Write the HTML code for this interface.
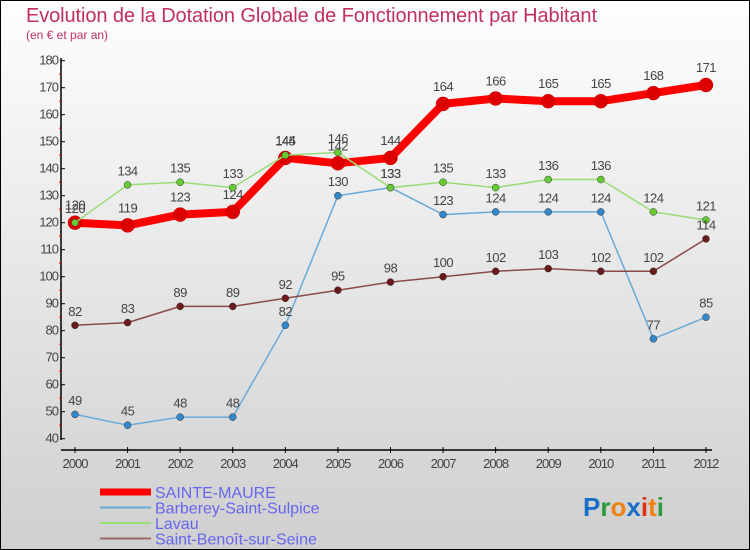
<!DOCTYPE html>
<html><head><meta charset="utf-8"><style>
body{margin:0}
#c{position:relative;width:750px;height:550px;box-sizing:border-box;border:1px solid #000;background:linear-gradient(#fefefe,#cfcfcf);font-family:"Liberation Sans",sans-serif;overflow:hidden}
</style></head><body>
<div id="c">
<svg id="s" width="750" height="550" style="position:absolute;left:-1px;top:-1px" font-family="Liberation Sans,sans-serif">
<text x="26" y="22" font-size="20" fill="#c0305a" textLength="571">Evolution de la Dotation Globale de Fonctionnement par Habitant</text>
<text x="26" y="39" font-size="12" fill="#c0305a">(en € et par an)</text>
<g id="axes"></g><g id="series"></g><g id="legend"></g>
<text x="583" y="516" font-size="26" font-weight="bold"><tspan fill="#1a6fc8">P</tspan><tspan fill="#2a9a3a">r</tspan><tspan fill="#f08010">o</tspan><tspan fill="#1a6fc8">x</tspan><tspan fill="#e03010">i</tspan><tspan fill="#f08010">t</tspan><tspan fill="#2a9a3a">i</tspan></text>
</svg>
</div>
<script>
const years=[2000,2001,2002,2003,2004,2005,2006,2007,2008,2009,2010,2011,2012];
const sainteMaure=[120,119,123,124,144,142,144,164,166,165,165,168,171];
const barberey=[49,45,48,48,82,130,133,123,124,124,124,77,85];
const lavau=[120,134,135,133,145,146,133,135,133,136,136,124,121];
const saintBenoit=[82,83,89,89,92,95,98,100,102,103,102,102,114];
const yTicks=[40,50,60,70,80,90,100,110,120,130,140,150,160,170,180];
const NS="http://www.w3.org/2000/svg";
function X(i){return 75+i*52.58;}
function Y(v){return 60.7+(180-v)*2.7;}
function mk(t,a,p,name){const e=document.createElementNS(NS,t);for(const k in a)e.setAttribute(k,a[k]);


p.appendChild(e);return e;}
const ax=document.getElementById('axes');
mk('line',{x1:61,y1:58,x2:61,y2:440,stroke:'#000','stroke-width':1.5},ax,'y-axis');
mk('line',{x1:61,y1:450,x2:712,y2:450,stroke:'#000','stroke-width':1.5},ax,'x-axis');
yTicks.forEach(v=>{mk('line',{x1:61,y1:Y(v),x2:65,y2:Y(v),stroke:'#000'},ax,'y-tick');
const t=mk('text',{x:58,y:Y(v)+4,'font-size':13,fill:'#444','text-anchor':'end','letter-spacing':'-1'},ax,'y-tick-label');t.textContent=v;
if(v<180)mk('line',{x1:59,y1:Y(v+5),x2:61,y2:Y(v+5),stroke:'#f00'},ax,'y-minor-tick');});
years.forEach((y,i)=>{mk('line',{x1:X(i),y1:447,x2:X(i),y2:453,stroke:'#000'},ax,'x-tick');
const t=mk('text',{x:X(i),y:468,'font-size':13,fill:'#444','text-anchor':'middle','letter-spacing':'-1'},ax,'x-tick-label');t.textContent=y;});
const sg=document.getElementById('series');
const defs=[[sainteMaure,'#f00','#d00',8,7,'sainte-maure'],[barberey,'#6aaad8','#3388cc',1.5,3.5,'barberey'],[lavau,'#99dd77','#66cc33',1.5,3.5,'lavau'],[saintBenoit,'#8a4a4a','#6a1a1a',1.5,3.5,'saint-benoit']];
defs.forEach(([d,lc,pc,w,r,n])=>{
mk('polyline',{points:d.map((v,i)=>X(i)+','+Y(v)).join(' '),fill:'none',stroke:lc,'stroke-width':w,'stroke-linejoin':'round'},sg,n+'-line');
d.forEach((v,i)=>{mk('circle',{cx:X(i),cy:Y(v),r:r,fill:pc,stroke:n=='sainte-maure'?'#c00':'#333','stroke-width':0.5},sg,n+'-point');
const t=mk('text',{x:X(i),y:Y(v)-(r+6),'font-size':13,fill:'#444','text-anchor':'middle','letter-spacing':'-0.5'},sg,n+'-value-label');t.textContent=v;});});
const lg=document.getElementById('legend');
const names=['SAINTE-MAURE','Barberey-Saint-Sulpice','Lavau','Saint-Benoît-sur-Seine'];
const lcol=['#f00','#6aaad8','#99dd77','#9a6a6a'];
names.forEach((nm,i)=>{const y=492+i*15.5;
mk('line',{x1:100,y1:y,x2:151,y2:y,stroke:lcol[i],'stroke-width':i==0?7:2},lg,'legend-swatch');
const t=mk('text',{x:155,y:y+6,'font-size':16,fill:'#6666ee'},lg,'legend-label');t.textContent=nm;});
</script>
</body></html>
